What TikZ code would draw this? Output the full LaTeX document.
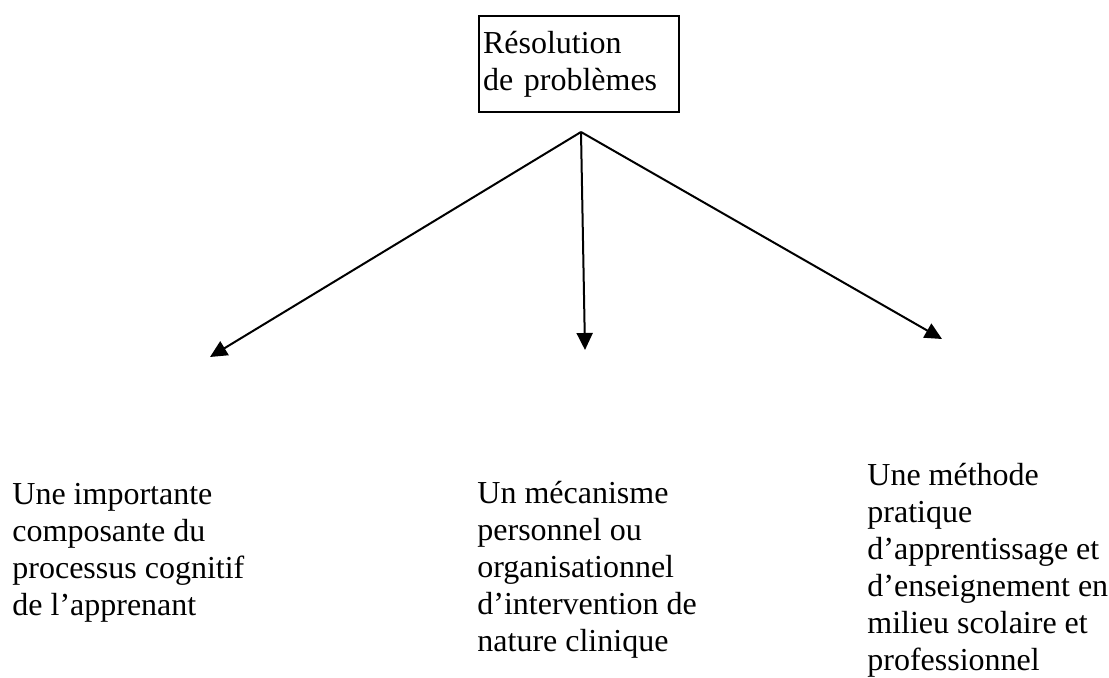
\documentclass[tikz,border=0pt]{standalone}
\usepackage{fontspec}
\setmainfont{Liberation Serif}
\usetikzlibrary{arrows.meta}

\begin{document}
\begin{tikzpicture}[x=0.5pt,y=-0.5pt,>={Triangle[length=8.5pt,width=8pt]},
  every node/.style={font=\fontsize{16}{18.5}\selectfont}]
\useasboundingbox (0,0) rectangle (1109,678);
\node[draw,line width=0.75pt,text width=96pt,align=left,inner xsep=2pt,minimum height=48pt] (top) at (579,64) {Résolution\\de problèmes};
\coordinate (split) at (581,132);
\coordinate (tip1) at (210,357);
\coordinate (tip2) at (585,350);
\coordinate (tip3) at (942,339);
% base anchor = last line
\node[anchor=base west,align=left,inner sep=0pt] (comp) at (12,616) {Une importante\\composante du\\processus cognitif\\de l’apprenant};
\node[anchor=base west,align=left,inner sep=0pt] (meca) at (477,652) {Un mécanisme\\personnel ou\\organisationnel\\d’intervention de\\nature clinique};
\node[anchor=base west,align=left,inner sep=0pt] (meth) at (867,670) {Une méthode\\pratique\\d’apprentissage et\\d’enseignement en\\milieu scolaire et\\professionnel};
\draw[->,line width=1pt] (split) -- (tip1);
\draw[->,line width=1pt] (split) -- (tip2);
\draw[->,line width=1pt] (split) -- (tip3);
\end{tikzpicture}
\end{document}
